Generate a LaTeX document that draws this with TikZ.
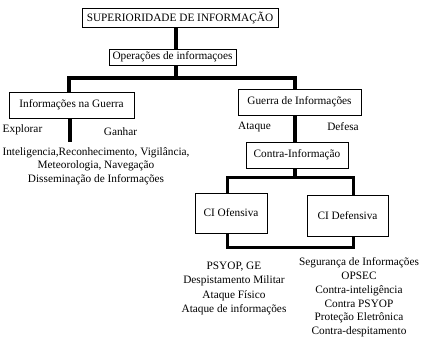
\documentclass[tikz,border=0pt]{standalone}
\usepackage{fontspec}
\setmainfont{Liberation Serif}
\usepackage{tikz}
\usetikzlibrary{positioning}
\colorlet{boxline}{black}

\tikzset{
  infobox/.style={draw=boxline, line width=0.9pt, fill=white, inner sep=0pt, font=\fontsize{11.3}{13.5}\selectfont},
  bar/.style={line width=3.7pt, black},
  lowbar/.style={line width=3pt, black},
  lbl/.style={font=\fontsize{11.3}{13.5}\selectfont, inner sep=0pt},
  listtxt/.style={font=\fontsize{11.3}{13.5}\selectfont, align=center, inner sep=0pt}
}

\begin{document}
\begin{tikzpicture}[x=1pt, y=-1pt]
  \useasboundingbox (0,0) rectangle (426,347);
  % --- boxes ---
  \node[infobox, minimum width=196pt, minimum height=19pt] (sup)   at (180,17.5)  {SUPERIORIDADE DE INFORMAÇÃO};
  \node[infobox, minimum width=127pt, minimum height=16pt] (ops)   at (172.5,57)  {Operações de informaçoes};
  \node[infobox, minimum width=125pt, minimum height=26pt] (infg)  at (71.5,105)  {Informações na Guerra};
  \node[infobox, minimum width=123pt, minimum height=26pt] (gdi)   at (299.5,102) {Guerra de Informações};
  \node[infobox, minimum width=102pt, minimum height=26pt] (cinfo) at (297,155)   {Contra-Informação};
  \node[infobox, minimum width=72pt,  minimum height=40pt] (ciof)  at (231,213)   {CI Ofensiva};
  \node[infobox, minimum width=81pt,  minimum height=41pt] (cidef) at (347.5,215.5) {CI Defensiva};
  % --- split points ---
  \coordinate (split1)  at (176,78);
  \coordinate (split2)  at (295,178);
  \coordinate (infgend) at (70,142);
  \coordinate (loopend) at (290,248);
  % --- upper tree ---
  \draw[bar] (sup.south -| split1) -- (ops.north -| split1);
  \draw[bar] (ops.south -| split1) -- (split1);
  \draw[bar] ([xshift=-2.5pt]infg.north) |- (split1) -| ([xshift=-4.5pt]gdi.north);
  \draw[bar] (infg.south -| infgend) -- (infgend);
  \draw[bar] (gdi.south -| split2) -- (cinfo.north -| split2);
  \draw[bar] (cinfo.south -| split2) -- (split2);
  % --- lower tree ---
  \draw[lowbar] ([xshift=-4pt]ciof.north) |- (split2) -| ([xshift=5.5pt]cidef.north);
  \draw[lowbar] ([xshift=-4pt]ciof.south) |- (loopend) -| ([xshift=5.5pt]cidef.south);
  % --- labels ---
  \node[lbl] (explorar) at (22.5,130) {Explorar};
  \node[lbl] (ganhar)   at (120.5,132) {Ganhar};
  \node[lbl] (ataque)   at (254.5,127) {Ataque};
  \node[lbl] (defesa)   at (343,127)   {Defesa};
  % --- lists ---
  \node[listtxt] (infglist) at (96,166) {Inteligencia,Reconhecimento, Vigilância,\\Meteorologia, Navegação\\Disseminação de Informações};
  \node[listtxt, font=\fontsize{11.3}{14.3}\selectfont] (oflist) at (234,288.5) {PSYOP, GE\\Despistamento Militar\\Ataque Físico\\Ataque de informações};
  \node[listtxt, font=\fontsize{11.3}{13.8}\selectfont] (deflist) at (359,297.5) {Segurança de Informações\\OPSEC\\Contra-inteligência\\Contra PSYOP\\Proteção Eletrônica\\Contra-despitamento};
\end{tikzpicture}
\end{document}
